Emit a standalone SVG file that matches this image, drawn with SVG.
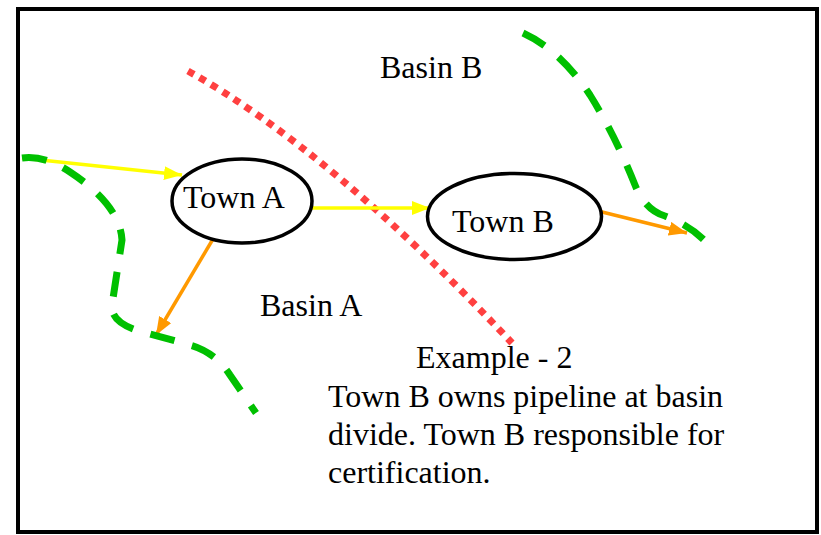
<svg xmlns="http://www.w3.org/2000/svg" width="821" height="535" viewBox="0 0 821 535">
<style>
.t{font-family:'Liberation Serif','Times New Roman',serif;font-size:32px;fill:#000}
.node{fill:#fff;stroke:#000;stroke-width:3.5}
.yel{stroke:#FFFF00;stroke-width:3.5;fill:none}
.ora{stroke:#FF9900;stroke-width:3.5;fill:none}
.grn{stroke:#00C000;stroke-width:7;fill:none;stroke-dasharray:25 18}
.red{stroke:#FF4040;stroke-width:7;fill:none;stroke-dasharray:7 6.5}
</style>
<defs>
<marker id="ay" markerUnits="userSpaceOnUse" markerWidth="18" markerHeight="14" refX="18" refY="7" orient="auto"><path d="M0,0 L18,7 L0,14 z" fill="#FFFF00"/></marker>
<marker id="ao" markerUnits="userSpaceOnUse" markerWidth="18" markerHeight="14" refX="18" refY="7" orient="auto"><path d="M0,0 L18,7 L0,14 z" fill="#FF9900"/></marker>
</defs>
<rect x="18" y="9" width="799" height="523" fill="#fff" stroke="#000" stroke-width="4"/>
<g id="boundaries">
<path class="red" d="M188,71 Q330,150 512,343"/>
</g>
<g id="connectors">
<path class="yel" d="M22,158 L182,175" marker-end="url(#ay)"/>
<path class="yel" d="M310,208 L430,208" marker-end="url(#ay)"/>
<path class="ora" d="M213,239 L156,335" marker-end="url(#ao)"/>
<path class="ora" d="M598,211 L687,233" marker-end="url(#ao)"/>
</g>
<g id="divides">
<path class="grn" d="M22,158 Q45,155 70,172 Q120,205 122,240 L112,305 Q110,325 150,334 L190,345 Q215,352 230,375 L256,413"/>
<path class="grn" d="M523,33 Q560,50 590,95 Q615,135 635,185 Q645,210 665,216 Q690,225 707,243"/>
</g>
<g id="townA">
<ellipse class="node" cx="242" cy="201" rx="70" ry="42"/>
<text class="t" x="183" y="208">Town A</text>
</g>
<g id="townB">
<ellipse class="node" cx="514.5" cy="216.5" rx="87" ry="43"/>
<text class="t" x="452" y="232">Town B</text>
</g>
<g id="labels">
<text class="t" x="380" y="78">Basin B</text>
<text class="t" x="260" y="316">Basin A</text>
<text class="t" x="416" y="368">Example - 2</text>
<text class="t" x="328" y="407">Town B owns pipeline at basin</text>
<text class="t" x="328" y="445">divide. Town B responsible for</text>
<text class="t" x="328" y="483">certification.</text>
</g>
</svg>
